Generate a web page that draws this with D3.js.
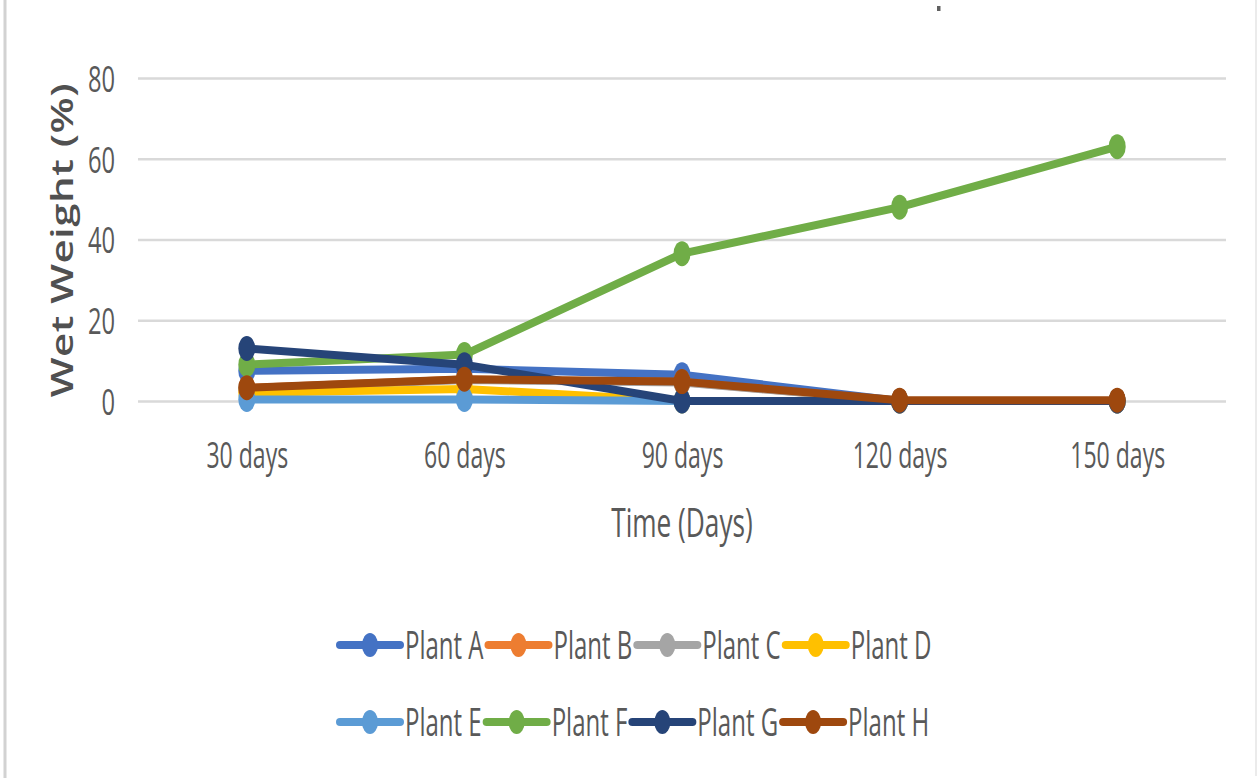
<!DOCTYPE html>
<html>
<head>
<meta charset="utf-8">
<script src="https://cdn.jsdelivr.net/npm/d3@7"></script>
<style>
  html, body { margin: 0; padding: 0; background: #fff; }
  svg { display: block; }
  text { font-family: "Open Sans", "Noto Sans", sans-serif; }
</style>
</head>
<body>
<svg id="chart" width="1257" height="778"></svg>
<script>
// Wet weight (%) of eight plants sampled over time
const categories = ["30 days", "60 days", "90 days", "120 days", "150 days"];
const yTicks = [0, 20, 40, 60, 80];

const plantA = [7.5, 8, 6.5, 0, 0];
const plantB = [3.2, 5.3, 4.7, 0, 0];
const plantC = [3.1, 5.2, 4.6, 0, 0];
const plantD = [2, 3, 0, 0, 0];
const plantE = [0.4, 0.4, 0, 0, 0];
const plantF = [9, 11.5, 36.5, 48, 63];
const plantG = [13, 9, 0, 0, 0];
const plantH = [3.3, 5.4, 4.8, 0.2, 0.2];

const seriesNames = ["Plant A", "Plant B", "Plant C", "Plant D", "Plant E", "Plant F", "Plant G", "Plant H"];
const seriesValues = [plantA, plantB, plantC, plantD, plantE, plantF, plantG, plantH];
const seriesColors = ["#4472C4", "#ED7D31", "#A5A5A5", "#FFC000", "#5B9BD5", "#70AD47", "#264478", "#9E480E"];

const series = seriesNames.map((name, i) => ({
  name, color: seriesColors[i],
  points: categories.map((c, j) => ({ cat: c, value: seriesValues[i][j] }))
}));

const svg = d3.select("#chart");
const squish = 0.64;           // condensed text look
const plot = { left: 138, right: 1226, top: 78, bottom: 401 };

svg.append("rect").attr("width", 1257).attr("height", 778).attr("fill", "#fff");

// frame edges
svg.append("line").attr("x1", 5).attr("x2", 5).attr("y1", 0).attr("y2", 778)
  .attr("stroke", "#d2d2d2").attr("stroke-width", 3);
svg.append("line").attr("x1", 1256).attr("x2", 1256).attr("y1", 0).attr("y2", 776)
  .attr("stroke", "#e4e4e4").attr("stroke-width", 1.5);
// remnant of a clipped heading glyph
svg.append("rect").attr("x", 937).attr("y", 6).attr("width", 3.5).attr("height", 5)
  .attr("fill", "#444").attr("opacity", 0.85);

const x = d3.scalePoint().domain(categories).range([plot.left, plot.right]).padding(0.5);
const y = d3.scaleLinear().domain([0, 80]).range([plot.bottom, plot.top]);

// y axis with gridlines
const yAxis = svg.append("g").attr("transform", `translate(${plot.left},0)`)
  .call(d3.axisLeft(y).tickValues(yTicks).tickSize(-(plot.right - plot.left)).tickFormat(d3.format("d")));
yAxis.select(".domain").remove();
yAxis.selectAll(".tick line").attr("stroke", "#d9d9d9").attr("stroke-width", 2.5);
yAxis.selectAll(".tick text")
  .attr("x", 0).attr("dy", "0.36em")
  .attr("transform", `translate(-23,0) scale(${squish},1)`)
  .attr("fill", "#595959").attr("font-size", 37);

// x axis labels
const xAxis = svg.append("g").attr("transform", `translate(0,${plot.bottom})`)
  .call(d3.axisBottom(x).tickSize(0));
xAxis.select(".domain").remove();
xAxis.selectAll(".tick text")
  .attr("y", 0).attr("dy", 0)
  .attr("transform", `translate(0,67) scale(${squish},1)`)
  .attr("fill", "#595959").attr("font-size", 36);

// axis titles
svg.append("text")
  .attr("transform", `translate(${(plot.left + plot.right) / 2},537) scale(${squish},1)`)
  .attr("text-anchor", "middle").attr("font-size", 41).attr("fill", "#595959")
  .text("Time (Days)");
svg.append("text")
  .attr("transform", `translate(73,240) scale(0.75,1) rotate(-90)`)
  .attr("text-anchor", "middle").attr("font-size", 42).attr("font-weight", 600)
  .attr("fill", "#505050").attr("letter-spacing", 0.5)
  .text("Wet Weight (%)");

// series lines and markers
const line = d3.line().x(d => x(d.cat)).y(d => y(d.value));
const gSeries = svg.append("g").selectAll("g").data(series).join("g");
gSeries.append("path")
  .attr("d", d => line(d.points))
  .attr("fill", "none").attr("stroke", d => d.color)
  .attr("stroke-width", 8).attr("stroke-linejoin", "round").attr("stroke-linecap", "round");
gSeries.selectAll("ellipse").data(d => d.points.map(p => ({ ...p, color: d.color }))).join("ellipse")
  .attr("cx", d => x(d.cat)).attr("cy", d => y(d.value))
  .attr("rx", 8.5).attr("ry", 12.5)
  .attr("fill", d => d.color);

// legend: two rows of four entries
const legendRows = [seriesNames.slice(0, 4), seriesNames.slice(4)];
const rowY = [645, 722];
const legend = svg.append("g");
legendRows.forEach((row, r) => {
  let cx = 340;
  row.forEach(name => {
    const color = seriesColors[seriesNames.indexOf(name)];
    const item = legend.append("g");
    item.append("line").attr("x1", cx).attr("x2", cx + 60).attr("y1", rowY[r]).attr("y2", rowY[r])
      .attr("stroke", color).attr("stroke-width", 8).attr("stroke-linecap", "round");
    item.append("ellipse").attr("cx", cx + 30).attr("cy", rowY[r]).attr("rx", 8).attr("ry", 12)
      .attr("fill", color);
    const t = item.append("text")
      .attr("transform", `translate(${cx + 65},${rowY[r]}) scale(${squish},1)`)
      .attr("dy", "0.36em").attr("font-size", 37.5).attr("fill", "#595959")
      .text(name);
    const w = t.node().getComputedTextLength() * squish;
    cx = cx + 65 + w + 5;
  });
});
</script>
</body>
</html>
